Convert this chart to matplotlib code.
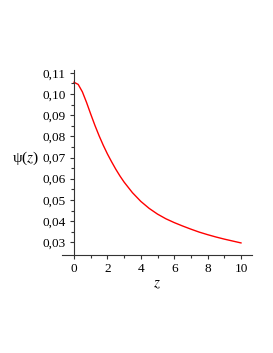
import numpy as np
import matplotlib.pyplot as plt
from matplotlib.ticker import FixedLocator, FuncFormatter

# values
z = [0.0, 0.25, 0.5, 0.75, 1.0, 1.25, 1.5, 1.75, 2.0, 2.25, 2.5, 2.75, 3.0, 3.5,
     4.0, 4.5, 5.0, 5.5, 6.0, 6.5, 7.0, 7.5, 8.0, 8.5, 9.0, 9.5, 10.0]
psi = [0.1055, 0.1045, 0.1010, 0.0960, 0.0905, 0.0852, 0.0803, 0.0758, 0.0717,
       0.0680, 0.0645, 0.0613, 0.0584, 0.0534, 0.0493, 0.0460, 0.0433, 0.0411,
       0.0393, 0.0377, 0.0362, 0.0348, 0.0336, 0.0325, 0.0315, 0.0306, 0.0297]

xticks = [0, 2, 4, 6, 8, 10]
yticks = [0.03, 0.04, 0.05, 0.06, 0.07, 0.08, 0.09, 0.10, 0.11]

plt.rcParams['mathtext.fontset'] = 'stix'
plt.rcParams['font.family'] = 'Liberation Serif'

fig = plt.figure(figsize=(2.73, 3.53), dpi=100)
ax = fig.add_axes([0.2271, 0.2776, 0.696, 0.5241])

ax.plot(z, psi, color='#ff0000', lw=1.0)

ax.set_xlim(-0.72, 10.66)
ax.set_ylim(0.024, 0.1113)

ax.spines['top'].set_visible(False)
ax.spines['right'].set_visible(False)
ax.spines['left'].set_position(('data', 0))
for s in ['left', 'bottom']:
    ax.spines[s].set_linewidth(0.8)
    ax.spines[s].set_color('#333333')

ax.xaxis.set_major_locator(FixedLocator(xticks))
ax.xaxis.set_minor_locator(FixedLocator([1, 3, 5, 7, 9]))
ax.yaxis.set_major_locator(FixedLocator(yticks))
ax.yaxis.set_minor_locator(FixedLocator([y + 0.005 for y in yticks[:-1]]))
ax.yaxis.set_major_formatter(FuncFormatter(lambda v, p: f'{v:.2f}'.replace('.', ',')))

ax.tick_params(which='both', direction='out', color='#333333', width=0.8, labelsize=9.5)
ax.tick_params(which='major', length=3, pad=3)
ax.tick_params(which='minor', length=2)

ax.set_xlabel('$z$', fontsize=11, labelpad=2)
fig.text(26 / 273, 1 - 158 / 353, 'ψ($z$)', fontsize=11, ha='center', va='center')

fig.savefig('out.png', dpi=100)
